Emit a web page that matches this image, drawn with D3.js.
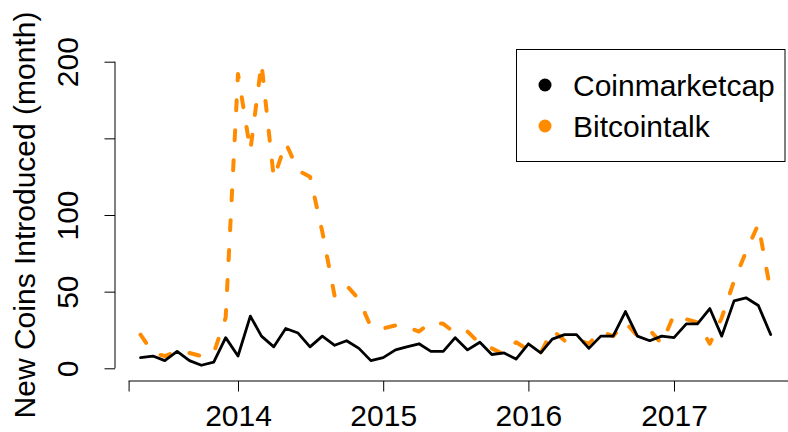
<!DOCTYPE html>
<html>
<head>
<meta charset="utf-8">
<script src="https://cdn.jsdelivr.net/npm/d3@7"></script>
<style>
  html, body { margin: 0; padding: 0; background: #fff; }
  svg { display: block; }
  text { font-family: "Liberation Sans", Arial, Helvetica, sans-serif; }
</style>
</head>
<body>
<svg id="chart" width="788" height="432"></svg>
<script>
// ---- data ----
const months = [
  "2013-05","2013-06","2013-07","2013-08","2013-09","2013-10","2013-11","2013-12",
  "2014-01","2014-02","2014-03","2014-04","2014-05","2014-06","2014-07","2014-08","2014-09","2014-10","2014-11","2014-12",
  "2015-01","2015-02","2015-03","2015-04","2015-05","2015-06","2015-07","2015-08","2015-09","2015-10","2015-11","2015-12",
  "2016-01","2016-02","2016-03","2016-04","2016-05","2016-06","2016-07","2016-08","2016-09","2016-10","2016-11","2016-12",
  "2017-01","2017-02","2017-03","2017-04","2017-05","2017-06","2017-07","2017-08","2017-09"
];
const coinmarketcap = [
  7, 8, 5, 11, 5, 2, 4, 20,
  8, 34, 21, 14, 26, 23, 14, 21, 15, 18, 13, 5,
  7, 12, 14, 16, 11, 11, 20, 12, 17, 9, 10, 6,
  16, 10, 19, 22, 22, 13, 21, 21, 37, 21, 18, 21,
  20, 29, 29, 39, 21, 44, 46, 41, 22
];
const bitcointalk = [
  22, 10, 8, 11, 10, 8, 10, 33,
  192, 142, 199, 124, 147, 129, 125, 89, 47, 54, 45, 27,
  26, 28, 27, 24, 30, 29, 23, 24, 16, 13, 9, 17,
  12, 10, 25, 18, 19, 16, 24, 21, 30, 21, 25, 16,
  35, 32, 30, 16, 33, 57, 76, 94, 50
];
const seriesNames = ["Coinmarketcap", "Bitcointalk"];
const seriesColors = ["#000000", "#FF8C00"];
const xTickDates = ["2013-04", "2014-01", "2015-01", "2016-01", "2017-01"];
const xTickLabels = ["", "2014", "2015", "2016", "2017"];
const yTickValues = [0, 50, 100, 150, 200];
const yTickLabels = ["0", "50", "100", "", "200"];
const yTitle = "New Coins Introduced (month)";

// ---- scales ----
const parseMonth = d3.utcParse("%Y-%m");
const dates = months.map(parseMonth);
const svg = d3.select("#chart");

const x = d3.scaleUtc()
  .domain([parseMonth("2014-01"), parseMonth("2017-01")])
  .range([238, 674]);
const y = d3.scaleLinear().domain([0, 200]).range([368.3, 61.7]);

const axisY = 115, axisXLine = 381, tickLen = 10.5, fs = 30;

// ---- axes ----
const xAxis = d3.axisBottom(x)
  .tickValues(xTickDates.map(parseMonth))
  .tickFormat((d, i) => xTickLabels[i])
  .tickSizeInner(tickLen).tickSizeOuter(0).tickPadding(13);
const gx = svg.append("g").attr("transform", `translate(0,${axisXLine})`).call(xAxis);
gx.select(".domain").remove();
gx.append("line")
  .attr("x1", x(parseMonth(xTickDates[0]))).attr("x2", 790)
  .attr("y1", 0).attr("y2", 0)
  .attr("stroke", "#000").attr("stroke-width", 1);
gx.selectAll(".tick line").attr("stroke", "#000");
gx.selectAll(".tick text")
  .attr("fill", "#000").attr("font-size", fs)
  .attr("font-family", "Liberation Sans, Arial, sans-serif")
  .attr("dy", "0.71em");

const yAxis = d3.axisLeft(y)
  .tickValues(yTickValues)
  .tickFormat((d, i) => yTickLabels[i])
  .tickSizeInner(tickLen).tickSizeOuter(0);
const gy = svg.append("g").attr("transform", `translate(${axisY},0)`).call(yAxis);
gy.select(".domain").attr("stroke", "#000").attr("d", `M0,${y(0)}V${y(200)}`);
gy.selectAll(".tick line").attr("stroke", "#000");
gy.selectAll(".tick text")
  .attr("fill", "#000").attr("font-size", fs)
  .attr("font-family", "Liberation Sans, Arial, sans-serif")
  .attr("text-anchor", "middle")
  .attr("x", null).attr("dy", null)
  .attr("transform", "translate(-37,0) rotate(-90)");

svg.append("text")
  .attr("transform", `translate(35,${(49.4 + 380.6) / 2}) rotate(-90)`)
  .attr("text-anchor", "middle")
  .attr("font-size", fs)
  .attr("fill", "#000")
  .text(yTitle);

// ---- lines ----
const line = d3.line().x((d, i) => x(dates[i])).y(d => y(d));

svg.append("path")
  .datum(bitcointalk)
  .attr("d", line)
  .attr("fill", "none")
  .attr("stroke", seriesColors[1])
  .attr("stroke-width", 4)
  .attr("stroke-linecap", "round")
  .attr("stroke-linejoin", "round")
  .attr("stroke-dasharray", "10 20");

svg.append("path")
  .datum(coinmarketcap)
  .attr("d", line)
  .attr("fill", "none")
  .attr("stroke", seriesColors[0])
  .attr("stroke-width", 2.8)
  .attr("stroke-linejoin", "round")
  .attr("stroke-linecap", "round");

// ---- legend ----
const lg = svg.append("g");
lg.append("rect")
  .attr("x", 516.5).attr("y", 49.5).attr("width", 268.5).attr("height", 112)
  .attr("fill", "#fff").attr("stroke", "#000").attr("stroke-width", 1);
const legendY = [85, 126];
seriesNames.forEach((name, i) => {
  lg.append("circle").attr("cx", 545).attr("cy", legendY[i]).attr("r", 6.5).attr("fill", seriesColors[i]);
  lg.append("text").attr("x", 573).attr("y", legendY[i]).attr("dy", "0.36em")
    .attr("font-size", fs).attr("fill", "#000").text(name);
});
</script>
</body>
</html>
